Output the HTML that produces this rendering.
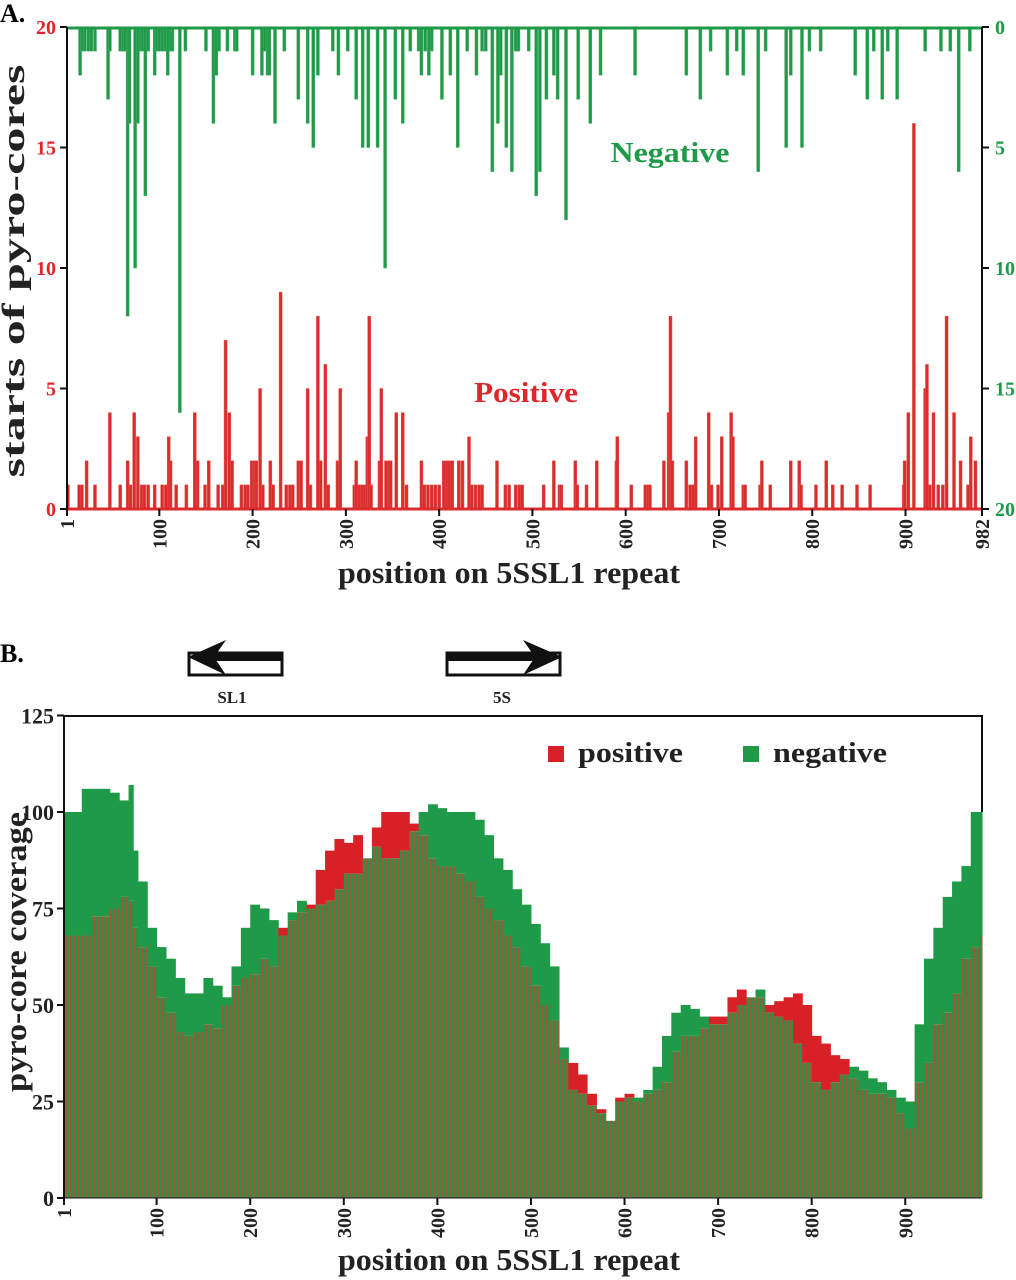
<!DOCTYPE html>
<html><head><meta charset="utf-8">
<style>
html,body{margin:0;padding:0;background:#fff;}
svg{display:block;font-family:"Liberation Serif",serif;font-weight:bold;}
</style></head>
<body>
<svg id="chart" width="1016" height="1280" viewBox="0 0 1016 1280" xmlns="http://www.w3.org/2000/svg">
<defs>
<pattern id="mix" patternUnits="userSpaceOnUse" width="4" height="10">
<rect x="0" y="0" width="2" height="10" fill="#2a9248"/>
<rect x="2" y="0" width="2" height="10" fill="#9c5a32"/>
</pattern>
</defs>
<g id="panelA"></g>
<g id="panelB"></g>
<text x="0" y="22" font-size="26">A.</text>
<text x="0" y="662" font-size="26">B.</text>
<text transform="translate(24,271) rotate(-90)" text-anchor="middle" font-size="32" textLength="413" lengthAdjust="spacingAndGlyphs" fill="#222">starts of pyro-cores</text>
<text x="509" y="583" text-anchor="middle" font-size="31" textLength="342" lengthAdjust="spacingAndGlyphs" fill="#222">position on 5SSL1 repeat</text>
<text x="670" y="162" text-anchor="middle" font-size="29" textLength="119" lengthAdjust="spacingAndGlyphs" fill="#1e9a48">Negative</text>
<text x="526" y="402" text-anchor="middle" font-size="28" textLength="104" lengthAdjust="spacingAndGlyphs" fill="#e0262b">Positive</text>
<text transform="translate(26,952) rotate(-90)" text-anchor="middle" font-size="31" textLength="280" lengthAdjust="spacingAndGlyphs" fill="#222">pyro-core coverage</text>
<text x="509" y="1270" text-anchor="middle" font-size="31" textLength="342" lengthAdjust="spacingAndGlyphs" fill="#222">position on 5SSL1 repeat</text>
<g>
<rect x="189" y="653" width="93" height="22" fill="#fff" stroke="#111" stroke-width="3"/>
<rect x="200" y="653" width="82" height="8" fill="#111"/>
<polygon points="188,657 226,640 214,657 226,675" fill="#111"/>
</g>
<text x="232" y="703" text-anchor="middle" font-size="17" fill="#222">SL1</text>
<g>
<rect x="447" y="653" width="113" height="22" fill="#fff" stroke="#111" stroke-width="3"/>
<rect x="447" y="653" width="100" height="8" fill="#111"/>
<polygon points="562,657 523,640 535,657 523,675" fill="#111"/>
</g>
<text x="502" y="703" text-anchor="middle" font-size="17" fill="#222">5S</text>
<rect x="548" y="746" width="16" height="16" fill="#d82027"/>
<text x="578" y="762" font-size="28" textLength="105" lengthAdjust="spacingAndGlyphs" fill="#222">positive</text>
<rect x="743" y="746" width="16" height="16" fill="#1f9a48"/>
<text x="773" y="762" font-size="28" textLength="114" lengthAdjust="spacingAndGlyphs" fill="#222">negative</text>
</svg>
<script>
// Panel A data: start positions and counts
const posStartPositions=[2,14,17,22,31,47,58,66,69,73,77,81,84,88,95,103,107,110,112,118,129,138,141,149,153,163,168,171,175,178,188,192,195,199,202,204,208,211,219,222,230,236,240,243,249,252,259,262,270,273,278,281,291,294,309,311,314,317,320,323,325,327,336,338,343,346,348,354,361,365,381,384,388,392,396,400,405,408,411,414,421,425,432,435,439,443,446,462,471,475,482,486,489,512,523,529,531,546,548,558,569,590,591,606,621,624,626,641,646,648,650,665,669,672,675,689,692,699,703,713,715,726,728,744,746,755,777,786,788,804,815,822,832,848,862,898,899,903,909,921,923,926,930,935,940,944,952,959,967,970,975];
const posStartCounts=[1,1,1,2,1,4,1,2,1,4,3,1,1,1,1,1,1,3,2,1,1,4,2,1,2,1,1,7,4,2,1,1,1,2,2,2,5,1,2,1,9,1,1,1,2,2,5,1,8,2,6,1,2,5,1,2,1,1,1,3,8,1,2,5,2,2,2,4,4,1,2,1,1,1,1,1,2,2,2,2,2,2,3,1,1,1,1,2,1,1,1,1,1,1,2,1,1,2,1,1,2,2,3,1,1,1,1,2,4,8,2,2,1,1,3,4,1,1,3,4,3,1,1,1,2,1,2,2,1,1,2,1,1,1,1,1,2,4,16,5,6,1,4,1,1,8,4,2,1,3,2];
const negStartPositions=[15,17,20,24,27,31,45,47,58,61,63,66,68,74,77,80,82,85,88,95,97,100,103,106,109,112,114,122,128,150,158,161,164,173,181,183,200,210,213,216,218,224,234,249,259,265,270,286,292,302,311,318,324,334,342,353,361,369,378,381,385,389,392,403,412,420,430,440,446,450,457,463,466,472,478,482,485,496,504,508,515,523,527,536,549,562,573,610,665,680,691,709,719,726,742,750,772,777,789,797,809,846,859,866,875,881,891,921,938,948,957,969];
const negStartCounts=[2,1,1,1,1,1,3,1,1,1,1,12,4,10,4,1,1,7,1,2,1,1,1,1,2,1,1,16,1,1,4,2,1,1,1,1,2,2,1,2,2,4,1,3,4,5,2,1,2,1,3,5,5,5,10,3,4,1,1,2,1,2,1,3,2,5,1,2,1,1,6,4,2,5,6,1,1,1,7,6,3,2,3,8,3,4,2,2,2,3,1,2,1,2,6,1,5,2,5,1,1,2,3,1,3,1,3,1,1,1,6,1];
const aTicksLeft=[0,5,10,15,20];
const aTicksRight=[0,5,10,15,20];
const xTickLabels=[1,100,200,300,400,500,600,700,800,900,982];
// Panel B data: coverage sampled along the repeat
const covPositions=[1,20,30,50,60,70,75,80,90,100,110,120,130,140,150,160,170,180,190,200,210,220,230,240,250,260,270,280,290,300,310,320,330,340,350,360,370,380,390,400,410,420,430,440,450,460,470,480,490,500,510,520,530,540,550,560,570,580,590,600,610,620,630,640,650,660,670,680,690,700,710,720,730,740,750,760,770,780,790,800,810,820,830,840,850,860,870,880,890,900,910,920,930,940,950,960,970,980];
const covPositive=[68,68,73,75,78,77,70,65,60,52,48,43,42,43,45,44,50,55,57,58,62,60,70,72,74,76,85,90,93,92,94,88,96,100,100,100,97,94,88,86,86,84,82,78,75,72,68,65,60,55,50,46,36,35,32,27,23,20,26,27,25,27,28,30,38,42,42,44,47,47,52,54,52,52,50,51,52,53,50,42,40,37,36,31,28,27,27,26,22,18,30,35,45,48,53,62,65,68];
const covNegative=[100,106,106,105,103,107,90,82,70,65,62,57,53,53,57,55,52,60,70,76,75,72,68,74,77,75,76,77,80,84,84,88,91,88,88,90,95,100,102,101,100,100,100,98,94,88,85,80,76,71,66,60,39,28,27,24,22,20,25,26,26,28,34,42,48,50,49,47,45,45,48,50,52,54,48,47,46,40,35,30,28,30,32,34,33,31,30,28,26,25,45,62,70,78,82,86,100,100];
const bTicks=[0,25,50,75,100,125];

const NS='http://www.w3.org/2000/svg';
function mk(tag,attrs,parent){const e=document.createElementNS(NS,tag);for(const k in attrs)e.setAttribute(k,attrs[k]);parent.appendChild(e);return e;}
const AX=p=>67+(p-1)*(982-67)/981;
const AY=v=>509-v*24.1;
const AYn=v=>27+v*24.1;
const gA=document.getElementById('panelA');
posStartPositions.forEach((p,i)=>{
  const r=mk('rect',{x:AX(p)-1.5,y:AY(posStartCounts[i]),width:3,height:posStartCounts[i]*24.1,fill:'#dc2b2d',stroke:'#e05a50','stroke-width':0.5},gA);
  
  
});
negStartPositions.forEach((p,i)=>{
  const r=mk('rect',{x:AX(p)-1.5,y:27,width:3,height:negStartCounts[i]*24.1,fill:'#1e9a48',stroke:'#4cb06a','stroke-width':0.5},gA);
  
  
});
mk('line',{x1:67,y1:509,x2:982,y2:509,stroke:'#dc2b2d','stroke-width':3},gA);
mk('line',{x1:67,y1:28,x2:982,y2:28,stroke:'#1e9a48','stroke-width':3},gA);
mk('line',{x1:67,y1:27,x2:67,y2:511,stroke:'#111','stroke-width':2},gA);
mk('line',{x1:982,y1:27,x2:982,y2:511,stroke:'#111','stroke-width':2},gA);
aTicksLeft.forEach(v=>{
  mk('line',{x1:60,y1:AY(v),x2:67,y2:AY(v),stroke:'#111','stroke-width':2},gA);
  const t=mk('text',{x:56,y:AY(v)+7,'text-anchor':'end','font-size':20,fill:'#e0262b'},gA);t.textContent=v;
  
  
});
aTicksRight.forEach(v=>{
  mk('line',{x1:982,y1:AYn(v),x2:989,y2:AYn(v),stroke:'#111','stroke-width':2},gA);
  const t=mk('text',{x:995,y:AYn(v)+7,'font-size':20,fill:'#1e9a48'},gA);t.textContent=v;
  
  
});
xTickLabels.forEach(v=>{
  const x=AX(v);
  mk('line',{x1:x,y1:509,x2:x,y2:516,stroke:'#111','stroke-width':2},gA);
  const t=mk('text',{transform:`translate(${x+7},519) rotate(-90)`,'text-anchor':'end','font-size':20,fill:'#222'},gA);t.textContent=v;
  
  
});
const BX=p=>64+(p-1)*(982-64)/981;
const BY=v=>1198-v*3.86;
const gB=document.getElementById('panelB');
covPositions.forEach((p,i)=>{
  const next=i<covPositions.length-1?covPositions[i+1]:982;
  const x0=BX(p),x1=BX(next)+0.5;
  const pv=covPositive[i],nv=covNegative[i];
  const hi=Math.max(pv,nv),lo=Math.min(pv,nv);
  const top=mk('rect',{x:x0,y:BY(hi),width:x1-x0,height:(hi-lo)*3.86,fill:pv>nv?'#d82027':'#1f9a48'},gB);
  
  
  const ov=mk('rect',{x:x0,y:BY(lo),width:x1-x0,height:lo*3.86,fill:'url(#mix)'},gB);
  
  
});
mk('line',{x1:63,y1:716,x2:983,y2:716,stroke:'#111','stroke-width':2},gB);
mk('line',{x1:64,y1:716,x2:64,y2:1199,stroke:'#111','stroke-width':2},gB);
mk('line',{x1:982,y1:716,x2:982,y2:812,stroke:'#111','stroke-width':2},gB);
mk('line',{x1:64,y1:1198,x2:982,y2:1198,stroke:'#111','stroke-width':1},gB);
bTicks.forEach(v=>{
  mk('line',{x1:57,y1:BY(v),x2:64,y2:BY(v),stroke:'#111','stroke-width':2},gB);
  const t=mk('text',{x:54,y:BY(v)+8,'text-anchor':'end','font-size':22,fill:'#222'},gB);t.textContent=v;
  
  
});
xTickLabels.slice(0,10).forEach(v=>{
  const x=BX(v);
  mk('line',{x1:x,y1:1198,x2:x,y2:1205,stroke:'#111','stroke-width':2},gB);
  const t=mk('text',{transform:`translate(${x+7},1208) rotate(-90)`,'text-anchor':'end','font-size':20,fill:'#222'},gB);t.textContent=v;
  
  
});
</script>
</body></html>
